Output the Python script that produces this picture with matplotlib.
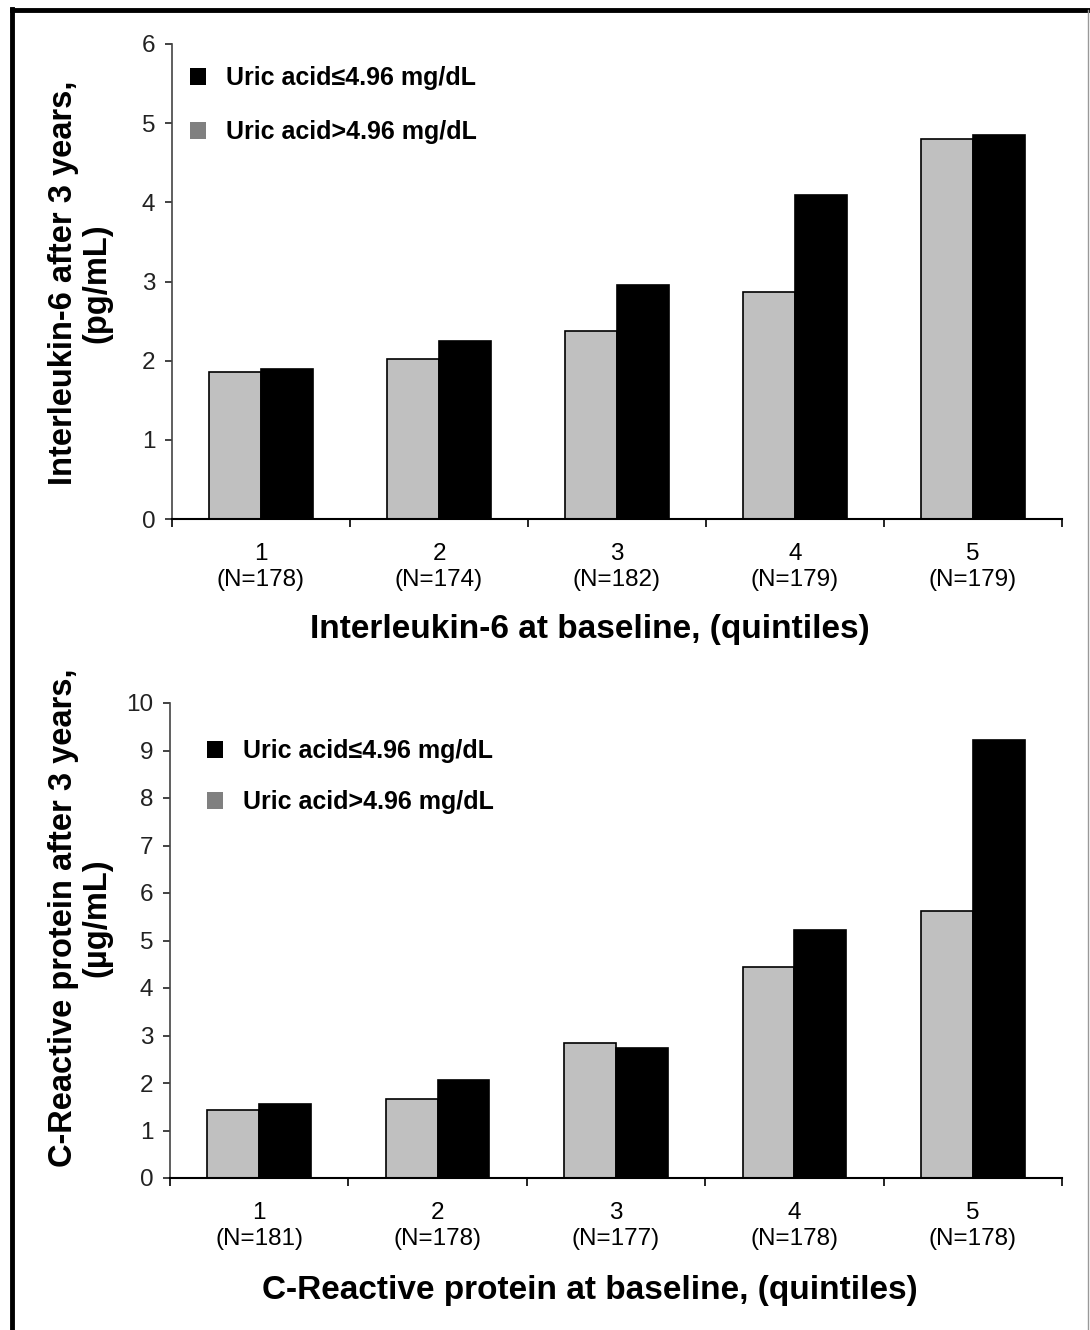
import numpy as np
import matplotlib
matplotlib.use("Agg")
import matplotlib.pyplot as plt
from matplotlib.patches import Patch
from matplotlib.lines import Line2D

plt.rcParams['font.family'] = ['Liberation Sans', 'DejaVu Sans']

# data
quintiles = ["1", "2", "3", "4", "5"]
n_il6 = [178, 174, 182, 179, 179]
n_crp = [181, 178, 177, 178, 178]

il6_high = [1.86, 2.02, 2.38, 2.87, 4.80]   # uric acid > 4.96 (gray)
il6_low = [1.90, 2.25, 2.96, 4.09, 4.85]    # uric acid <= 4.96 (black)
crp_high = [1.43, 1.67, 2.85, 4.44, 5.63]
crp_low = [1.56, 2.06, 2.74, 5.23, 9.22]

lab_low = "Uric acid\u22644.96 mg/dL"
lab_high = "Uric acid>4.96 mg/dL"

W, H = 1090, 1330
fig = plt.figure(figsize=(W / 100, H / 100), dpi=100)

# outer frame
fig.add_artist(Line2D([12 / W, 12 / W], [0, 1 - 9 / H], color="black", lw=3.5))
fig.add_artist(Line2D([12 / W, 1], [1 - 10 / H, 1 - 10 / H], color="black", lw=3.5))
fig.add_artist(Line2D([1088 / W, 1088 / W], [0, 1 - 10 / H], color="#999999", lw=1))


def panel(rect, high, low, ns, ymax, ylab, xlab, leg_xy, leg_sp, ylab_y, xlab_y):
    ax = fig.add_axes(rect)
    x = np.arange(len(quintiles))
    w = 0.29
    ax.bar(x - w / 2, high, w, color="#c0c0c0", edgecolor="black", lw=1.2)
    ax.bar(x + w / 2, low, w, color="black", edgecolor="black", lw=1.2)
    ax.set_xlim(-0.5, 4.5)
    ax.set_ylim(0, ymax)
    ax.set_yticks(range(0, ymax + 1))
    ax.tick_params(axis="y", direction="out", length=5, width=1.2,
                   labelsize=17.5, pad=7, colors="#222222")
    ax.set_xticks(x)
    ax.set_xticklabels([f"{q}\n(N={n})" for q, n in zip(quintiles, ns)],
                       fontsize=17.5, linespacing=1.25)
    ax.tick_params(axis="x", which="major", length=0, pad=17)
    ax.set_xticks(np.arange(-0.5, 5, 1), minor=True)
    ax.tick_params(axis="x", which="minor", direction="out", length=6, width=1.2)
    for s in ["top", "right"]:
        ax.spines[s].set_visible(False)
    ax.spines["left"].set_color("#444444")
    ax.spines["left"].set_linewidth(1.2)
    ax.spines["bottom"].set_linewidth(1.5)

    handles = [Patch(facecolor="black", edgecolor="none"),
               Patch(facecolor="#808080", edgecolor="none")]
    ax.legend(handles, [lab_low, lab_high], loc="upper left",
              bbox_to_anchor=leg_xy, frameon=False, borderpad=0,
              handlelength=0.65, handleheight=0.7, handletextpad=0.8,
              labelspacing=leg_sp, prop={"weight": "bold", "size": 18})

    fig.text(80 / W, 1 - ylab_y / H, ylab, rotation=90, ha="center", va="center",
             fontsize=23.5, fontweight="bold", linespacing=1.1, multialignment="center")
    fig.text(590 / W, 1 - xlab_y / H, xlab, ha="center", va="center",
             fontsize=24, fontweight="bold")
    return ax


panel([172 / W, 1 - 519 / H, 890 / W, 475 / H], il6_high, il6_low, n_il6, 6,
      "Interleukin-6 after 3 years,\n(pg/mL)",
      "Interleukin-6 at baseline, (quintiles)",
      (0.006, 0.98), 1.2, 283, 630)

panel([170 / W, 1 - 1178 / H, 892 / W, 475 / H], crp_high, crp_low, n_crp, 10,
      "C-Reactive protein after 3 years,\n(\u00b5g/mL)",
      "C-Reactive protein at baseline, (quintiles)",
      (0.027, 0.95), 1.08, 918, 1290)

fig.savefig("out.png", dpi=100, facecolor="white")
